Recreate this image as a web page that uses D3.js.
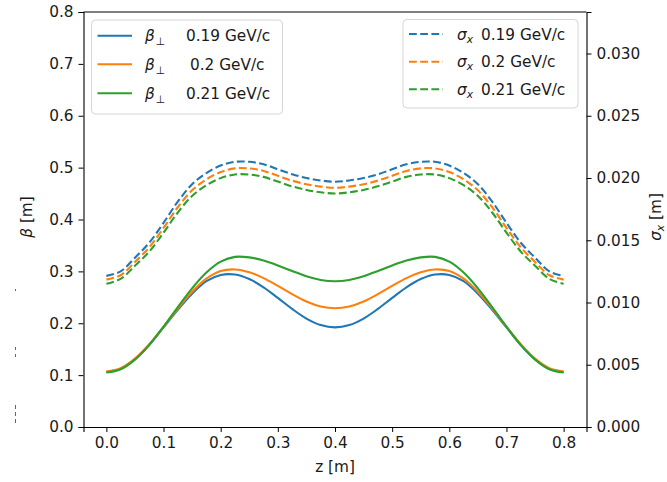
<!DOCTYPE html>
<html lang="en">
<head>
    <meta charset="UTF-8">
    <title>Beta and sigma along z</title>
    <script src="https://d3js.org/d3.v7.min.js"></script>
    <style>
        body { margin: 0; background: #fff; }
        svg { display: block; }
        text {
            font-family: "DejaVu Sans", sans-serif;
            font-size: 15.3px;
            fill: #1a1a1a;
        }
        .domain, .tick line { stroke: #000; }
    </style>
</head>
<body>
    <svg></svg>
    <script>
        const width = 667;
        const height = 482;

        // momenta (GeV/c) and their colours
        const momenta = ["0.19", "0.2", "0.21"];
        const colors = ["#1f77b4", "#ff7f0e", "#2ca02c"];

        // longitudinal position z [m]
        const zVals = [0, 0.025, 0.05, 0.075, 0.1, 0.125, 0.15, 0.175, 0.2, 0.225, 0.25,
            0.275, 0.3, 0.325, 0.35, 0.375, 0.4, 0.425, 0.45, 0.475, 0.5, 0.525, 0.55,
            0.575, 0.6, 0.625, 0.65, 0.675, 0.7, 0.725, 0.75, 0.775, 0.8];

        // beta_perp [m] for each momentum
        const beta019 = [0.106, 0.1124, 0.1307, 0.158, 0.192, 0.226, 0.257, 0.281, 0.293, 0.2939, 0.2852,
            0.2693, 0.2489, 0.2276, 0.209, 0.1964, 0.192, 0.1964, 0.209, 0.2276, 0.2489, 0.2693, 0.2852,
            0.2939, 0.293, 0.281, 0.257, 0.226, 0.192, 0.158, 0.1307, 0.1124, 0.106];
        const beta020 = [0.107, 0.1134, 0.1317, 0.1594, 0.1931, 0.2284, 0.2608, 0.286, 0.3008, 0.3037, 0.2983,
            0.287, 0.2721, 0.2562, 0.242, 0.2324, 0.229, 0.2324, 0.242, 0.2562, 0.2721, 0.287, 0.2983,
            0.3037, 0.3008, 0.286, 0.2608, 0.2284, 0.1931, 0.1594, 0.1317, 0.1134, 0.107];
        const beta021 = [0.105, 0.1114, 0.1299, 0.1583, 0.1934, 0.2312, 0.2673, 0.2977, 0.3187, 0.328, 0.327,
            0.321, 0.3115, 0.3006, 0.2906, 0.2835, 0.281, 0.2835, 0.2906, 0.3006, 0.3115, 0.321, 0.327,
            0.328, 0.3187, 0.2977, 0.2673, 0.2312, 0.1934, 0.1583, 0.1299, 0.1114, 0.105];

        // sigma_x [m] for each momentum (right axis)
        const sigma019 = [0.01214, 0.0125, 0.0136, 0.0148, 0.0164, 0.0181, 0.0195, 0.0204, 0.021, 0.0213, 0.0213,
            0.0211, 0.0207, 0.0203, 0.02, 0.0198, 0.0197, 0.0198, 0.02, 0.0203, 0.0207, 0.0211, 0.0213,
            0.0213, 0.021, 0.0204, 0.0195, 0.0181, 0.0164, 0.0148, 0.0136, 0.0125, 0.01214];
        const sigma020 = [0.01184, 0.01219, 0.01326, 0.01443, 0.01599, 0.01765, 0.01901, 0.01989, 0.02048, 0.02077, 0.02077,
            0.02057, 0.02018, 0.01979, 0.0195, 0.01931, 0.01921, 0.01931, 0.0195, 0.01979, 0.02018, 0.02057, 0.02077,
            0.02077, 0.02048, 0.01989, 0.01901, 0.01765, 0.01599, 0.01443, 0.01326, 0.01219, 0.01184];
        const sigma021 = [0.0115, 0.0119, 0.01295, 0.01409, 0.01561, 0.01723, 0.01856, 0.01942, 0.01999, 0.02028, 0.02028,
            0.02009, 0.01971, 0.01933, 0.01904, 0.01885, 0.01876, 0.01885, 0.01904, 0.01933, 0.01971, 0.02009, 0.02028,
            0.02028, 0.01999, 0.01942, 0.01856, 0.01723, 0.01561, 0.01409, 0.01295, 0.0119, 0.0115];

        const xTicks = [0, 0.1, 0.2, 0.3, 0.4, 0.5, 0.6, 0.7, 0.8];
        const yTicks = [0, 0.1, 0.2, 0.3, 0.4, 0.5, 0.6, 0.7, 0.8];
        const y2Ticks = [0, 0.005, 0.01, 0.015, 0.02, 0.025, 0.03];

        const betaSeries = [beta019, beta020, beta021];
        const sigmaSeries = [sigma019, sigma020, sigma021];

        const margin = { top: 12, right: 80.5, bottom: 55, left: 83.5 };
        const innerW = width - margin.left - margin.right;
        const innerH = height - margin.top - margin.bottom;

        const svg = d3.select("svg")
            .attr("width", width)
            .attr("height", height);

        const x = d3.scaleLinear().domain([-0.04, 0.84]).range([0, innerW]);
        const y = d3.scaleLinear().domain([0, 0.8]).range([innerH, 0]);
        const y2 = d3.scaleLinear().domain([0, 0.8 / 24]).range([innerH, 0]);

        const g = svg.append("g")
            .attr("transform", `translate(${margin.left},${margin.top})`);

        // lines
        const line = sc => d3.line()
            .x((d, i) => x(zVals[i]))
            .y(d => sc(d))
            .curve(d3.curveCatmullRom.alpha(0.5));

        g.append("g").selectAll("path")
            .data(sigmaSeries)
            .enter().append("path")
            .attr("d", line(y2))
            .attr("fill", "none")
            .attr("stroke", (d, i) => colors[i])
            .attr("stroke-width", 2.1)
            .attr("stroke-dasharray", "7.8,3.4");

        g.append("g").selectAll("path")
            .data(betaSeries)
            .enter().append("path")
            .attr("d", line(y))
            .attr("fill", "none")
            .attr("stroke", (d, i) => colors[i])
            .attr("stroke-width", 2.1);

        // axes
        const xAxis = g.append("g")
            .attr("transform", `translate(0,${innerH})`)
            .call(d3.axisBottom(x).tickValues(xTicks).tickFormat(d3.format(".1f"))
                .tickSizeOuter(0).tickSize(5).tickPadding(5));
        const yAxis = g.append("g")
            .call(d3.axisLeft(y).tickValues(yTicks).tickFormat(d3.format(".1f"))
                .tickSizeOuter(0).tickSize(5).tickPadding(5));
        const y2Axis = g.append("g")
            .attr("transform", `translate(${innerW},0)`)
            .call(d3.axisRight(y2).tickValues(y2Ticks).tickFormat(d3.format(".3f"))
                .tickSizeOuter(0).tickSize(5).tickPadding(5));
        [xAxis, yAxis, y2Axis].forEach(a => {
            a.selectAll("text").attr("font-size", null).attr("font-family", null);
            a.attr("font-size", null).attr("font-family", null);
        });
        g.append("line")
            .attr("x1", 0).attr("x2", innerW).attr("y1", 0).attr("y2", 0)
            .attr("stroke", "#000");
        g.selectAll(".domain").attr("stroke-width", 1.1);

        // axis labels
        svg.append("text")
            .attr("x", margin.left + innerW / 2)
            .attr("y", 472)
            .attr("text-anchor", "middle")
            .text("z [m]");

        const yl = svg.append("text")
            .attr("transform", "translate(32,217) rotate(-90)")
            .attr("text-anchor", "middle");
        yl.append("tspan").attr("font-style", "italic").text("β");
        yl.append("tspan").text(" [m]");

        const y2l = svg.append("text")
            .attr("transform", "translate(661,217) rotate(-90)")
            .attr("text-anchor", "middle");
        y2l.append("tspan").attr("font-style", "italic").text("σ");
        y2l.append("tspan").attr("font-style", "italic").attr("font-size", "10.7px")
            .attr("dy", 3).text("x");
        y2l.append("tspan").attr("dy", -3).text(" [m]");

        // left legend (beta)
        const leg1 = svg.append("g");
        leg1.append("rect")
            .attr("x", 91.5).attr("y", 20).attr("width", 191).attr("height", 94)
            .attr("rx", 4).attr("fill", "#fff").attr("fill-opacity", 0.8)
            .attr("stroke", "#d6d6d6");
        const rows1 = [35.7, 64.3, 93.3];
        const valX1 = [186, 190, 186];
        momenta.forEach((p, i) => {
            leg1.append("line")
                .attr("x1", 97.5).attr("x2", 132).attr("y1", rows1[i]).attr("y2", rows1[i])
                .attr("stroke", colors[i]).attr("stroke-width", 2.1);
            const t = leg1.append("text").attr("x", 145).attr("y", rows1[i] + 5.5);
            t.append("tspan").attr("font-style", "italic").text("β");
            t.append("tspan").attr("font-size", "10.7px").attr("dy", 4).attr("dx", 1).text("⊥");
            leg1.append("text").attr("x", valX1[i]).attr("y", rows1[i] + 5.5)
                .text(p + " GeV/c");
        });

        // right legend (sigma)
        const leg2 = svg.append("g");
        leg2.append("rect")
            .attr("x", 403).attr("y", 19.5).attr("width", 175).attr("height", 88.5)
            .attr("rx", 4).attr("fill", "#fff").attr("fill-opacity", 0.8)
            .attr("stroke", "#d6d6d6");
        const rows2 = [34, 61.7, 89.3];
        momenta.forEach((p, i) => {
            leg2.append("line")
                .attr("x1", 409).attr("x2", 443).attr("y1", rows2[i]).attr("y2", rows2[i])
                .attr("stroke", colors[i]).attr("stroke-width", 2.1)
                .attr("stroke-dasharray", "7.8,3.4");
            const t = leg2.append("text").attr("x", 457).attr("y", rows2[i] + 5.5);
            t.append("tspan").attr("font-style", "italic").text("σ");
            t.append("tspan").attr("font-style", "italic").attr("font-size", "10.7px")
                .attr("dy", 3).text("x");
            leg2.append("text").attr("x", 481).attr("y", rows2[i] + 5.5)
                .text(p + " GeV/c");
        });

        // small red marks at the far left
        const redMarks = [[289, 291], [347, 350], [354, 357], [405, 409], [412, 416], [419, 423]];
        svg.append("g").selectAll("line")
            .data(redMarks)
            .enter().append("line")
            .attr("x1", 15.5).attr("x2", 15.5)
            .attr("y1", d => d[0]).attr("y2", d => d[1])
            .attr("stroke", "#e03030").attr("stroke-width", 1);
    </script>
</body>
</html>
